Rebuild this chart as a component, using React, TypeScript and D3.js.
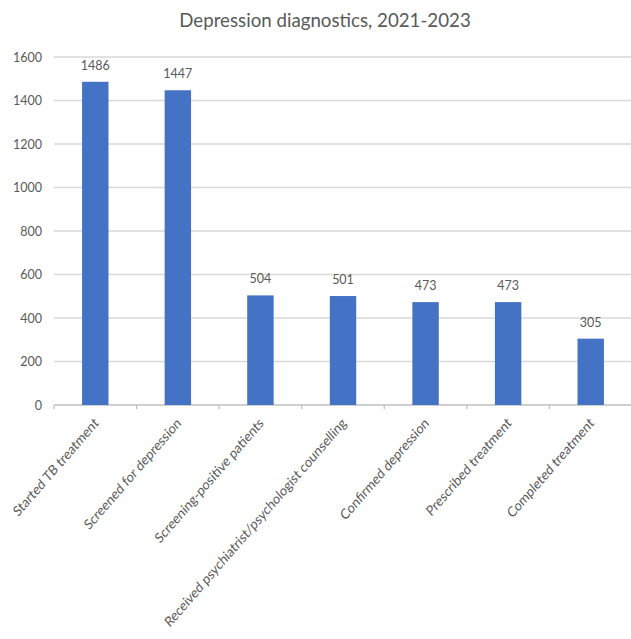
import React from 'react'
import { scaleBand, scaleLinear } from 'd3'

const categories = [
  'Started TB treatment',
  'Screened for depression',
  'Screening-positive patients',
  'Received psychiatrist/psychologist counselling',
  'Confirmed depression',
  'Prescribed treatment',
  'Completed treatment',
]
const values = [1486, 1447, 504, 501, 473, 473, 305]
const yTicks = [0, 200, 400, 600, 800, 1000, 1200, 1400, 1600]

const W = 631
const H = 639
const FONT = 'Lato, "Open Sans", sans-serif'

export default function App(): JSX.Element {
  const left = 54
  const right = 632
  const top = 57
  const bottom = 405

  const x = scaleBand<string>().domain(categories).range([left, right]).paddingInner(0.68).paddingOuter(0.34)
  const band = scaleBand<string>().domain(categories).range([left, right])
  const y = scaleLinear().domain([0, 1600]).range([bottom, top])

  return (
    <svg width={W} height={H} style={{ position: 'absolute', left: 0, top: 0 }} xmlns="http://www.w3.org/2000/svg">
      <rect width={W} height={H} fill="#ffffff" />
      <text x={325} y={27} textAnchor="middle" fontFamily={FONT} fontSize={18.7} fill="#595959">
        Depression diagnostics, 2021-2023
      </text>
      <g className="grid">
        {yTicks.map((t) => (
          <line key={t} x1={left} x2={right} y1={y(t)} y2={y(t)} stroke={t === 0 ? '#bfbfbf' : '#d9d9d9'} strokeWidth={1.3} />
        ))}
      </g>
      <g className="y-labels">
        {yTicks.map((t) => (
          <text key={t} x={42} y={y(t) + 4.5} textAnchor="end" fontFamily={FONT} fontSize={12.5} fill="#595959">
            {t}
          </text>
        ))}
      </g>
      <g className="x-ticks">
        {[...categories.map((c) => band(c) as number), right].map((px, i) => (
          <line key={i} x1={px} x2={px} y1={bottom} y2={bottom + 4} stroke="#bfbfbf" strokeWidth={1.3} />
        ))}
      </g>
      <g className="bars">
        {categories.map((c, i) => (
          <rect key={c} x={x(c)} y={y(values[i])} width={x.bandwidth()} height={bottom - y(values[i])} fill="#4472c4" />
        ))}
      </g>
      <g className="values">
        {categories.map((c, i) => (
          <text
            key={c}
            x={(x(c) as number) + x.bandwidth() / 2}
            y={y(values[i]) - 12}
            textAnchor="middle"
            fontFamily={FONT}
            fontSize={12.5}
            fill="#595959"
          >
            {values[i]}
          </text>
        ))}
      </g>
      <g className="x-labels">
        {categories.map((c) => {
          const cx = (band(c) as number) + band.bandwidth() / 2 + 4
          const cy = bottom + 19
          return (
            <text
              key={c}
              transform={`translate(${cx},${cy}) scale(1,1.15) rotate(-45)`}
              textAnchor="end"
              fontFamily={FONT}
              fontSize={12.4}
              fill="#595959"
            >
              {c}
            </text>
          )
        })}
      </g>
    </svg>
  )
}
